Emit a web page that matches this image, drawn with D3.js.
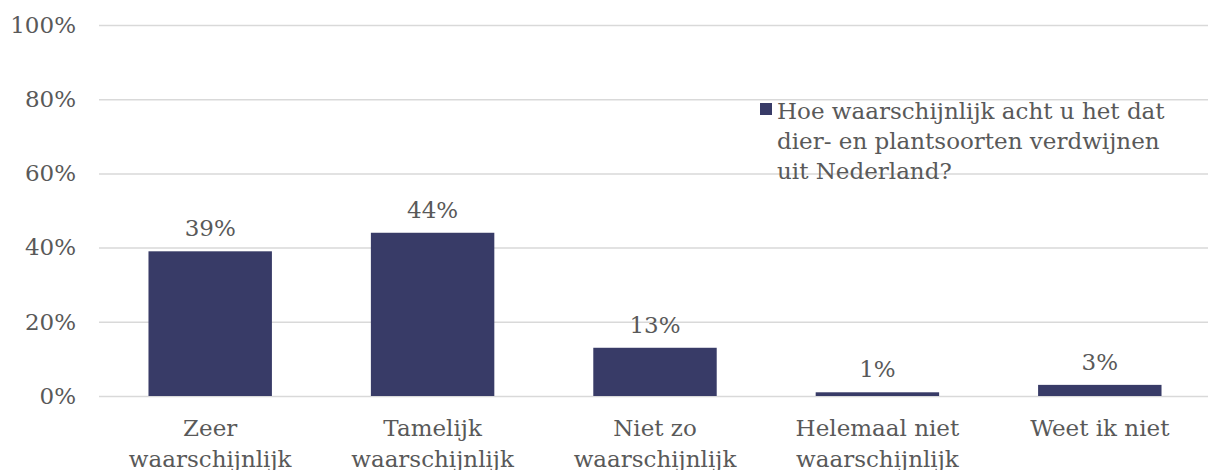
<!DOCTYPE html>
<html>
<head>
<meta charset="utf-8">
<script src="https://cdn.jsdelivr.net/npm/d3@7"></script>
<style>
  body { margin: 0; background: #fff; }
  text { font-family: "DejaVu Serif", serif; fill: #595959; }
</style>
</head>
<body>
<div id="chart"></div>
<script>
// data
var categories = [["Zeer", "waarschijnlijk"], ["Tamelijk", "waarschijnlijk"], ["Niet zo", "waarschijnlijk"], ["Helemaal niet", "waarschijnlijk"], ["Weet ik niet"]];
var values = [39, 44, 13, 1, 3];
var yTicks = [0, 20, 40, 60, 80, 100];
var legendLines = ["Hoe waarschijnlijk acht u het dat", "dier- en plantsoorten verdwijnen", "uit Nederland?"];

var W = 1208, H = 470;
var margin = {top: 25, right: 0, bottom: 74, left: 99};
var fs = "23px";

var svg = d3.select("#chart").append("svg")
  .attr("width", W)
  .attr("height", H);

var keys = categories.map(function(c) { return c.join(" "); });

var x = d3.scaleBand()
  .domain(keys)
  .range([margin.left, 1211])
  .paddingInner(0.445)
  .paddingOuter(0.2225);

var y = d3.scaleLinear()
  .domain([0, 100])
  .range([H - margin.bottom, margin.top]);

// gridlines
svg.append("g")
  .attr("transform", "translate(" + margin.left + ",0)")
  .call(d3.axisLeft(y).tickValues(yTicks).tickSize(-(1211 - margin.left)).tickFormat(""))
  .call(function(g) {
    g.select(".domain").remove();
    g.selectAll("line").attr("stroke", "#d9d9d9").attr("stroke-width", 1.5);
  });

// y tick labels
svg.append("g")
  .attr("transform", "translate(76,0)")
  .call(d3.axisLeft(y).tickValues(yTicks).tickSize(0).tickPadding(0).tickFormat(function(d) { return d + "%"; }))
  .call(function(g) {
    g.select(".domain").remove();
    g.selectAll("text").style("font-size", fs).attr("fill", "#595959");
  });

// bars
svg.selectAll(".bar")
  .data(values)
  .enter()
  .append("rect")
  .attr("x", function(d, i) { return x(keys[i]); })
  .attr("y", function(d) { return y(d); })
  .attr("width", x.bandwidth())
  .attr("height", function(d) { return y(0) - y(d); })
  .attr("fill", "#383b67");

// value labels
svg.selectAll(".val")
  .data(values)
  .enter()
  .append("text")
  .attr("x", function(d, i) { return x(keys[i]) + x.bandwidth() / 2; })
  .attr("y", function(d) { return y(d) - 15; })
  .attr("text-anchor", "middle")
  .style("font-size", fs)
  .text(function(d) { return d + "%"; });

// category labels
var xAxis = svg.append("g")
  .attr("transform", "translate(0," + y(0) + ")")
  .call(d3.axisBottom(x).tickSize(0).tickFormat(""));
xAxis.select(".domain").remove();
xAxis.selectAll(".tick").each(function(d, i) {
  var t = d3.select(this).append("text")
    .attr("text-anchor", "middle")
    .attr("y", 40)
    .style("font-size", fs)
    .attr("fill", "#595959");
  categories[i].forEach(function(line, j) {
    t.append("tspan").attr("x", 0).attr("dy", j === 0 ? 0 : 31).text(line);
  });
});

// legend
var legend = svg.append("g");
legend.append("rect")
  .attr("x", 760).attr("y", 103)
  .attr("width", 12).attr("height", 12)
  .attr("fill", "#383b67");
legend.append("text")
  .attr("y", 119)
  .style("font-size", fs)
  .selectAll("tspan")
  .data(legendLines)
  .enter()
  .append("tspan")
  .attr("x", 777)
  .attr("dy", function(d, i) { return i === 0 ? 0 : 30; })
  .text(function(d) { return d; });
</script>
</body>
</html>
